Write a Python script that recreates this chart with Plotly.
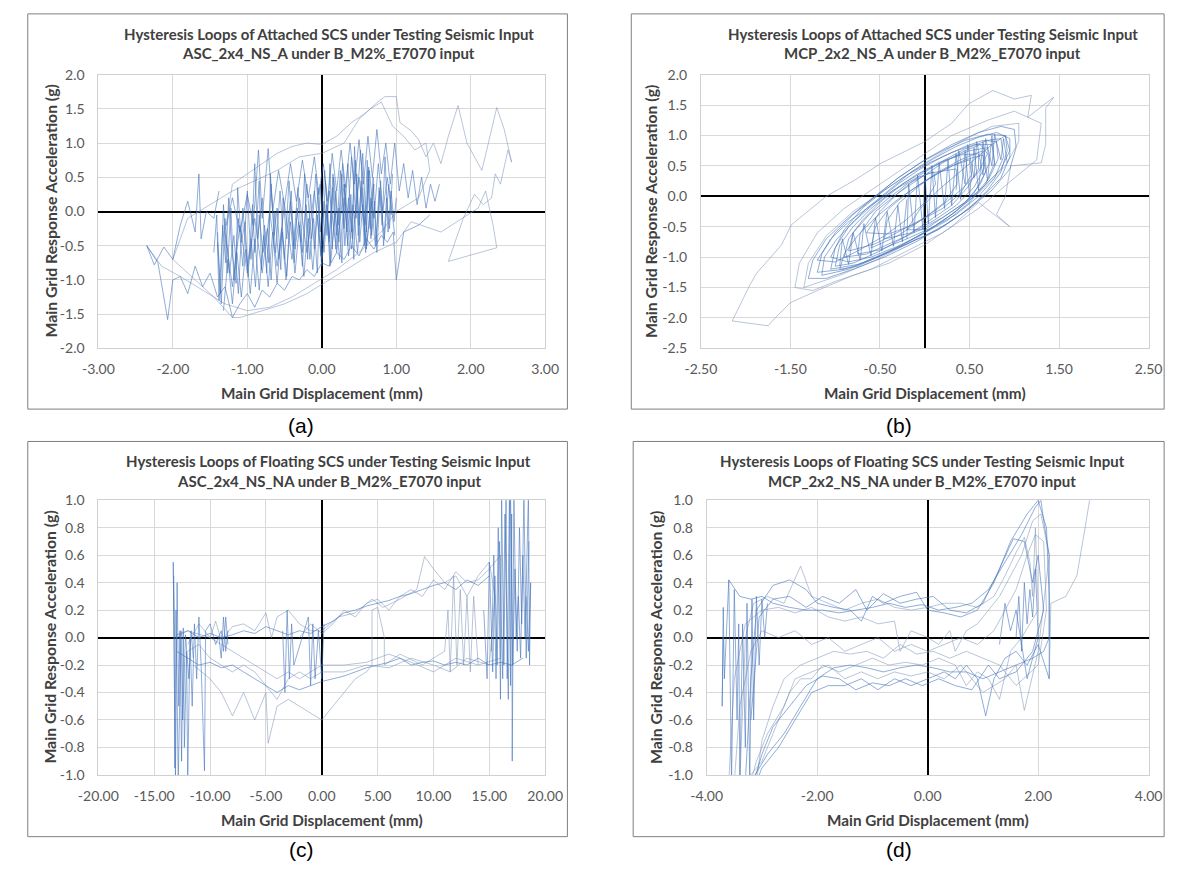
import plotly.graph_objects as go

W, H = 1186, 878

# ---------------- Panel (a) : ASC_2x4_NS_A (attached) ----------------
A_PASS1 = [(-1.40,-0.30),(-1.36,-1.20),(-1.32,0.10),(-1.27,-0.90),(-1.22,0.05),(-1.18,-1.00),(-1.12,-0.10),(-1.06,-0.80),
           (-1.00,0.30),(-0.95,-0.70),(-0.90,0.70),(-0.86,-0.40),(-0.80,0.20),(-0.74,-0.90),(-0.68,0.40),(-0.62,-0.60),
           (-0.56,0.30),(-0.50,-0.70),(-0.44,0.45),(-0.38,-0.50),(-0.32,0.35),(-0.26,-0.60),(-0.20,0.40),(-0.14,-0.40),
           (-0.08,0.55),(-0.02,-0.30),(0.04,0.60),(0.10,-0.40),(0.16,0.50),(0.22,-0.20),(0.28,0.70),(0.34,-0.30),
           (0.40,0.80),(0.46,-0.10),(0.52,0.90),(0.58,-0.20),(0.64,0.60),(0.70,-0.10),(0.76,0.70),(0.82,0.00),
           (0.88,0.50),(0.94,-0.05)]
A_PASS2 = [(0.98,-0.35),(0.90,0.40),(0.84,-0.40),(0.78,0.30),(0.72,-0.50),(0.66,0.20),(0.60,-0.55),(0.54,0.35),
           (0.48,-0.60),(0.42,0.10),(0.36,-0.65),(0.30,0.20),(0.24,-0.70),(0.18,0.00),(0.12,-0.75),(0.06,0.10),
           (0.00,-0.80),(-0.06,-0.05),(-0.12,-0.85),(-0.18,-0.10),(-0.24,-0.95),(-0.30,-0.20),(-0.36,-0.90),
           (-0.42,-0.15),(-0.48,-1.00),(-0.54,-0.25),(-0.60,-1.05),(-0.66,-0.30),(-0.72,-1.10),(-0.78,-0.35),
           (-0.84,-1.15),(-0.90,-0.40),(-0.96,-1.20),(-1.02,-0.55),(-1.08,-1.25),(-1.14,-0.60),(-1.20,-1.35),
           (-1.26,-0.70),(-1.32,-1.45)]
A_PASS3 = [(-1.28,-0.20),(-1.20,0.20),(-1.10,-0.30),(-1.00,0.25),(-0.92,-0.20),(-0.85,0.90),(-0.80,-0.10),(-0.72,0.92),
           (-0.66,0.00),(-0.58,0.60),(-0.50,0.10),(-0.42,0.70),(-0.34,0.15),(-0.26,0.75),(-0.18,0.20),(-0.10,0.80),
           (-0.04,0.25),(0.02,0.70),(0.08,0.15),(0.14,0.85),(0.20,0.30),(0.26,0.90),(0.32,0.35),(0.38,1.00),
           (0.44,0.40),(0.50,1.05),(0.56,0.40),(0.62,1.10),(0.68,0.50),(0.74,1.20),(0.80,0.55),(0.86,1.00),
           (0.92,0.40),(0.98,1.00),(1.04,0.30),(1.10,0.70),(1.16,0.20),(1.22,0.60),(1.28,0.10),(1.34,0.50),
           (1.40,0.05),(1.46,0.40),(1.52,0.15),(1.58,0.40)]
A_PASS4 = [(1.45,-0.05),(1.30,-0.20),(1.10,-0.30),(1.00,-1.00),(0.96,-0.30),(0.88,-0.45),(0.80,-0.35),(0.70,-0.55),
           (0.60,-0.40),(0.50,-0.65),(0.40,-0.50),(0.30,-0.70),(0.20,-0.60),(0.10,-0.80),(0.00,-0.75),(-0.10,-0.95),
           (-0.20,-0.85),(-0.30,-1.00),(-0.40,-0.95),(-0.50,-1.15),(-0.60,-1.05),(-0.70,-1.25),(-0.80,-1.15),
           (-0.90,-1.40),(-1.00,-1.20),(-1.10,-1.35),(-1.20,-1.55),(-1.30,-1.10),(-1.40,-1.25),(-1.50,-0.90),
           (-1.60,-1.10),(-1.70,-0.80),(-1.80,-1.20),(-1.90,-0.95),(-2.00,-1.00),(-2.07,-1.58),(-2.20,-0.75),
           (-2.35,-0.50),(-2.25,-0.78),(-2.12,-0.52),(-2.00,-0.70),(-1.90,-0.20),(-1.80,0.15),(-1.70,-0.30),
           (-1.65,0.55),(-1.62,-0.40),(-1.55,0.00),(-1.45,-0.10),(-1.38,0.30)]
A_PASS5 = [(-1.45,-0.60),(-1.41,-0.05),(-1.38,-1.30),(-1.33,-0.20),(-1.29,-0.75),(-1.25,0.20),(-1.21,-0.55),
           (-1.15,-1.05),(-1.13,0.35),(-1.08,-0.45),(-1.03,-0.15),(-0.99,-0.95),(-0.93,0.10),(-0.90,-0.60),
           (-0.84,0.45),(-0.81,-0.85),(-0.77,-0.20),(-0.71,-0.75),(-0.69,0.55),(-0.64,-0.35),(-0.60,0.05),
           (-0.55,-0.85),(-0.52,0.20),(-0.47,-0.40),(-0.41,0.30),(-0.37,-0.75),(-0.33,0.05),(-0.28,-0.45),
           (-0.23,0.55),(-0.19,-0.70),(-0.15,0.25),(-0.10,-0.55),(-0.05,0.35),(-0.01,-0.65),(0.03,0.15),
           (0.07,-0.35),(0.11,0.70),(0.14,-0.55),(0.19,0.30),(0.23,-0.45),(0.27,0.55),(0.31,-0.50),(0.36,0.20),
           (0.41,-0.40),(0.44,0.95),(0.49,-0.35),(0.53,0.45),(0.57,-0.50),(0.61,0.75),(0.65,-0.25),(0.69,0.50),
           (0.73,-0.45),(0.77,0.35),(0.81,-0.20),(0.85,0.80),(0.89,-0.30),(0.93,0.30),(0.97,-0.15),(1.00,0.20)]
A_PASS6 = [(0.95,0.55),(0.91,-0.25),(0.87,0.20),(0.83,-0.50),(0.79,0.45),(0.74,-0.60),(0.71,0.15),(0.67,-0.35),
           (0.63,0.65),(0.59,-0.60),(0.55,0.10),(0.51,-0.45),(0.47,0.55),(0.43,-0.70),(0.39,0.25),(0.35,-0.50),
           (0.31,0.40),(0.27,-0.75),(0.23,0.05),(0.19,-0.55),(0.15,0.35),(0.11,-0.80),(0.07,0.00),(0.03,-0.60),
           (-0.02,0.40),(-0.06,-0.90),(-0.11,-0.10),(-0.16,-0.70),(-0.21,0.10),(-0.26,-0.80),(-0.31,-0.15),
           (-0.36,-0.55),(-0.42,0.15),(-0.47,-0.95),(-0.53,-0.30),(-0.58,-0.70),(-0.63,0.00),(-0.68,-1.00),
           (-0.73,-0.25),(-0.79,-0.60),(-0.84,-0.05),(-0.89,-1.10),(-0.95,-0.40),(-1.00,-0.80),(-1.06,0.05),
           (-1.12,-1.20),(-1.18,-0.35),(-1.24,-0.90),(-1.30,-0.10),(-1.35,-1.35),(-1.40,-0.45)]
A_DENSE = [(0.00,-0.50),(0.05,0.45),(0.10,-0.45),(0.15,0.55),(0.20,-0.35),(0.25,0.60),(0.30,-0.25),(0.35,0.70),
           (0.40,-0.30),(0.45,0.75),(0.50,-0.20),(0.55,0.85),(0.60,-0.30),(0.62,0.60),(0.66,-0.40),(0.70,0.40),
           (0.60,-0.50),(0.50,0.50),(0.40,-0.55),(0.30,0.40),(0.20,-0.60),(0.10,0.30),(0.00,-0.70),(-0.10,0.30),
           (-0.20,-0.60),(-0.30,0.20),(-0.40,-0.70),(-0.50,0.10),(-0.60,-0.80),(-0.70,0.00),(-0.80,-0.90),
           (-0.90,-0.10),(-1.00,-0.90),(-1.10,-0.20),(-1.20,-1.10),(-1.30,-0.30)]
A_OUTER = [(-1.30,-0.30),(-1.20,0.40),(-1.00,0.55),(-0.80,0.70),(-0.60,0.85),(-0.40,0.95),(-0.20,1.00),(0.00,0.98),
           (0.20,1.10),(0.40,1.30),(0.60,1.45),(0.75,1.60),(0.85,1.68),(1.00,1.68),(1.05,1.30),(1.20,1.18),
           (1.30,1.05),(1.40,0.80),(1.50,1.00),(1.60,0.70),(1.70,1.10),(1.83,1.55),(1.95,1.00),(2.05,0.80),
           (2.15,0.60),(2.35,1.52),(2.45,1.20),(2.55,0.72),(2.50,0.90),(2.40,0.40),(2.33,0.55),(2.28,0.20),
           (2.17,0.10),(2.05,0.25),(1.90,-0.10),(1.70,-0.73),(2.35,-0.53),(2.30,-0.20),(2.20,0.30),(2.10,0.05),
           (1.60,-0.30),(1.20,-0.15),(1.00,-0.45),(0.70,-0.60),(0.40,-0.80),(0.10,-1.00),(-0.20,-1.20),
           (-0.50,-1.35),(-0.80,-1.45),(-1.10,-1.55),(-1.20,-1.55),(-1.45,-1.25),(-1.70,-1.00),(-2.00,-0.70),
           (-1.80,-0.10),(-1.50,0.10),(-1.20,0.30),(-0.90,0.45),(-0.60,0.60),(-0.30,0.80),(0.00,0.85),
           (0.30,1.00),(0.50,1.35),(0.65,1.50),(0.80,1.60),(0.95,1.25),(1.10,1.10),(1.25,0.90),(1.40,1.00),
           (1.45,0.60),(1.30,0.20),(1.00,0.00),(0.80,-0.30),(0.50,-0.60),(0.20,-0.85),(-0.10,-1.05),
           (-0.40,-1.25),(-0.70,-1.40),(-1.00,-1.45),(-1.30,-1.35),(-1.60,-1.15),(-1.90,-0.95),(-2.15,-0.80),
           (-2.35,-0.50)]

# ---------------- Panel (b) : MCP_2x2_NS_A (attached) ----------------
B_LOOP_L = [(-1.20,-1.25),(-1.15,-0.95),(-1.00,-0.60),(-0.80,-0.30),(-0.55,0.00),(-0.30,0.30),(-0.05,0.55),
            (0.20,0.75),(0.45,0.92),(0.70,1.02),(0.90,1.00),(0.92,0.75),(0.85,0.40),(0.70,0.10),(0.50,-0.20),
            (0.25,-0.45),(0.00,-0.65),(-0.30,-0.85),(-0.60,-1.05),(-0.90,-1.20),(-1.20,-1.25)]
B_LOOP_M = [(-0.90,-1.00),(-0.85,-0.70),(-0.70,-0.40),(-0.50,-0.10),(-0.25,0.20),(0.00,0.42),(0.25,0.60),(0.50,0.75),
            (0.70,0.80),(0.72,0.55),(0.62,0.20),(0.45,-0.10),(0.20,-0.35),(-0.05,-0.55),(-0.35,-0.75),(-0.65,-0.95),
            (-0.90,-1.00)]
B_LOOP_S = [(-0.60,-0.85),(-0.55,-0.50),(-0.40,-0.20),(-0.20,0.05),(0.05,0.30),(0.30,0.50),(0.50,0.60),(0.52,0.35),
            (0.40,0.05),(0.20,-0.20),(-0.05,-0.40),(-0.30,-0.65),(-0.60,-0.85)]
B_LOOP_XL = [(-1.30,-1.35),(-1.25,-1.05),(-1.10,-0.70),(-0.85,-0.35),(-0.60,-0.05),(-0.30,0.30),(0.00,0.60),
             (0.30,0.85),(0.60,1.05),(0.85,1.15),(1.00,1.10),(1.02,0.80),(0.95,0.45),(0.75,0.10),(0.50,-0.20),
             (0.20,-0.50),(-0.10,-0.75),(-0.45,-1.00),(-0.80,-1.20),(-1.10,-1.35),(-1.30,-1.35)]
B_LOOP_L2 = [(-1.05,-1.20),(-1.00,-0.85),(-0.85,-0.50),(-0.65,-0.20),(-0.40,0.10),(-0.15,0.40),(0.10,0.62),
             (0.35,0.82),(0.60,0.97),(0.80,1.05),(0.95,0.95),(0.95,0.65),(0.85,0.30),(0.65,0.00),(0.40,-0.30),
             (0.15,-0.55),(-0.15,-0.75),(-0.45,-0.95),(-0.75,-1.12),(-1.05,-1.20)]
B_LOOP_L3 = [(-1.15,-1.30),(-1.12,-1.00),(-0.98,-0.70),(-0.78,-0.40),(-0.55,-0.10),(-0.30,0.20),(-0.05,0.45),
             (0.20,0.65),(0.45,0.82),(0.65,0.92),(0.80,0.90),(0.82,0.62),(0.72,0.30),(0.55,0.00),(0.30,-0.30),
             (0.05,-0.55),(-0.25,-0.80),(-0.55,-1.00),(-0.85,-1.20),(-1.15,-1.30)]
B_LOOP_M2 = [(-0.75,-0.95),(-0.72,-0.60),(-0.55,-0.25),(-0.30,0.05),(-0.05,0.35),(0.20,0.58),(0.45,0.78),(0.70,0.92),
             (0.85,0.95),(0.88,0.65),(0.78,0.30),(0.60,0.00),(0.35,-0.30),(0.10,-0.50),(-0.20,-0.70),(-0.50,-0.88),
             (-0.75,-0.95)]
B_LOOP_M3 = [(-1.00,-1.15),(-0.95,-0.80),(-0.80,-0.50),(-0.60,-0.20),(-0.35,0.10),(-0.10,0.35),(0.15,0.55),(0.40,0.68),
             (0.60,0.70),(0.60,0.45),(0.48,0.15),(0.30,-0.15),(0.05,-0.40),(-0.20,-0.65),(-0.50,-0.90),(-0.80,-1.10),
             (-1.00,-1.15)]
B_LOOP_S2 = [(-0.45,-0.70),(-0.42,-0.40),(-0.28,-0.10),(-0.08,0.15),(0.15,0.40),(0.40,0.60),(0.65,0.75),(0.66,0.45),
             (0.55,0.15),(0.35,-0.15),(0.10,-0.40),(-0.15,-0.60),(-0.45,-0.70)]
B_LOOP_S3 = [(-0.85,-0.90),(-0.80,-0.60),(-0.62,-0.30),(-0.42,-0.05),(-0.20,0.20),(0.05,0.38),(0.35,0.45),(0.36,0.20),
             (0.22,-0.10),(0.00,-0.35),(-0.25,-0.55),(-0.55,-0.78),(-0.85,-0.90)]
B_LOOP_A = [(-1.05,-1.00),(-0.90,-0.55),(-0.70,-0.20),(-0.45,0.10),(-0.20,0.35),(0.05,0.55),(0.30,0.72),(0.55,0.85),
            (0.75,0.85),(0.78,0.55),(0.68,0.20),(0.50,-0.10),(0.25,-0.40),(0.00,-0.60),(-0.30,-0.82),(-0.60,-1.00),
            (-0.85,-1.08),(-1.05,-1.00)]
B_LOOP_B = [(-0.95,-1.20),(-0.90,-0.95),(-0.75,-0.65),(-0.55,-0.35),(-0.30,-0.05),(-0.05,0.20),(0.20,0.42),(0.45,0.60),
            (0.65,0.68),(0.68,0.40),(0.55,0.05),(0.35,-0.25),(0.10,-0.50),(-0.15,-0.72),(-0.45,-0.95),(-0.75,-1.15),
            (-0.95,-1.20)]
B_LOOP_C = [(-0.65,-0.60),(-0.50,-0.25),(-0.30,0.05),(-0.05,0.30),(0.20,0.55),(0.45,0.75),(0.62,0.85),(0.70,0.70),
            (0.60,0.40),(0.40,0.10),(0.15,-0.20),(-0.10,-0.45),(-0.40,-0.62),(-0.65,-0.60)]
B_LOOP_D = [(-1.20,-1.05),(-1.05,-0.70),(-0.85,-0.42),(-0.60,-0.15),(-0.35,0.10),(-0.10,0.30),(0.10,0.40),(0.12,0.20),
            (0.00,-0.10),(-0.20,-0.38),(-0.45,-0.65),(-0.75,-0.90),(-1.00,-1.08),(-1.20,-1.05)]
B_LOOP_E = [(-0.20,-0.55),(-0.05,-0.20),(0.15,0.10),(0.35,0.35),(0.55,0.60),(0.75,0.85),(0.90,1.00),(0.95,0.75),
            (0.85,0.45),(0.65,0.15),(0.45,-0.10),(0.20,-0.35),(0.00,-0.55),(-0.20,-0.55)]
B_CENTER = [(-0.20,-0.70),(-0.18,0.20),(-0.12,-0.60),(-0.08,0.35),(-0.02,-0.55),(0.00,0.40),(0.04,-0.45),(0.08,0.50),
            (0.12,-0.35),(0.16,0.55),(0.22,-0.20),(0.26,0.60),(0.30,-0.15),(0.35,0.70),(0.40,-0.05),(0.45,0.75),
            (0.50,0.00),(0.55,0.80),(0.60,0.10),(0.65,0.90),(0.70,0.25),(0.75,1.00),(0.78,0.50)]
B_RIGHT_HATCH = [(0.35,0.10),(0.38,0.75),(0.45,0.20),(0.48,0.85),(0.55,0.30),(0.58,0.90),(0.65,0.35),(0.68,0.95),
                 (0.75,0.50),(0.78,1.02),(0.85,0.60),(0.88,0.95),(0.92,0.55)]
B_LEFT_HATCH = [(-0.95,-1.15),(-0.92,-0.70),(-0.85,-1.12),(-0.80,-0.60),(-0.72,-1.05),(-0.68,-0.45),(-0.60,-0.98),
                (-0.55,-0.35),(-0.48,-0.90),(-0.42,-0.25),(-0.35,-0.82),(-0.30,-0.15),(-0.25,-0.75),(-0.20,-0.05)]
B_LOOP_XL2 = [(-1.35,-1.50),(-1.30,-1.10),(-1.10,-0.65),(-0.80,-0.25),(-0.40,0.15),(0.00,0.55),(0.40,0.90),
              (0.75,1.15),(1.05,1.20),(1.05,0.90),(0.90,0.50),(0.60,0.05),(0.25,-0.35),(-0.15,-0.75),(-0.55,-1.05),
              (-0.95,-1.30),(-1.35,-1.50)]
B_OUTER1 = [(-2.15,-2.05),(-1.95,-1.45),(-1.88,-1.27),(-1.60,-0.80),(-1.49,-0.47),(-1.10,0.00),(-0.80,0.25),
            (-0.48,0.55),(0.00,0.90),(0.30,1.20),(0.49,1.52),(0.76,1.74),(1.00,1.60),(1.19,1.66),(1.15,1.30),
            (1.44,1.63),(1.35,1.45),(1.35,0.85),(1.30,0.55),(0.96,0.50),(0.90,0.00),(0.80,-0.30),(0.95,-0.50),
            (0.60,-0.10),(0.30,-0.50),(0.00,-0.80),(-0.40,-1.10),(-0.80,-1.30),(-1.20,-1.55),(-1.50,-1.75),
            (-1.67,-2.00),(-1.75,-2.13),(-2.15,-2.05)]
B_OUTER2 = [(-1.45,-1.50),(-1.40,-1.10),(-1.20,-0.60),(-0.90,-0.20),(-0.50,0.20),(-0.10,0.60),(0.30,1.00),(0.70,1.25),
            (1.00,1.40),(1.30,1.20),(1.25,0.60),(1.00,0.30),(0.60,-0.20),(0.20,-0.60),(-0.20,-0.90),(-0.60,-1.20),
            (-1.00,-1.40),(-1.25,-1.55),(-1.45,-1.50)]

# ---------------- Panel (c) : ASC_2x4_NS_NA (floating) ----------------
C_LEFT_SPIKES = [(-13.2,0.00),(-13.3,0.55),(-13.1,-1.05),(-12.95,0.40),(-12.8,-0.50),(-12.7,0.05),(-12.55,-0.90),
                 (-12.4,0.07),(-12.3,-0.80),(-12.1,-0.10),(-12.0,-1.05),(-11.8,0.00),(-11.6,-0.50),(-11.4,0.10),
                 (-11.2,-0.30),(-11.0,0.15),(-10.8,-0.20),(-10.5,-0.97),(-10.4,0.05),(-10.0,0.10),(-9.5,-0.05),
                 (-9.0,0.05),(-8.8,-0.10),(-8.6,0.15),(-8.4,-0.05)]
C_LEFT_SPIKES2 = [(-13.25,0.45),(-13.15,-0.95),(-13.05,0.20),(-12.85,-1.05),(-12.60,0.05),(-12.45,-0.60),
                  (-12.20,0.02),(-11.90,-0.30),(-11.70,0.05),(-11.50,-0.15)]
C_CYCLE1_UP = [(-13.0,0.02),(-12.0,0.05),(-11.0,0.00),(-10.0,0.03),(-9.0,0.00),(-8.0,0.02),(-7.0,0.05),(-6.0,0.03),
               (-5.0,0.08),(-4.0,0.05),(-3.0,0.02),(-2.0,0.05),(-1.0,0.03),(0.0,0.08),(1.0,0.12),(2.0,0.18),
               (3.0,0.20),(4.0,0.23),(5.0,0.25),(6.0,0.27),(7.0,0.30),(8.0,0.32),(9.0,0.35),(10.0,0.38),
               (11.0,0.40),(12.0,0.35),(13.0,0.42),(14.0,0.38),(15.0,0.45)]
C_RIGHT_SPIKES = [(15.2,-0.10),(15.4,0.60),(15.6,-0.30),(15.8,0.80),(16.0,-0.45),(16.1,1.05),(16.3,-0.20),(16.5,1.05),
                  (16.6,-0.30),(16.8,1.05),(16.9,-0.35),(17.0,0.90),(17.05,-0.90),(17.2,1.05),(17.4,0.00),(17.6,0.30),
                  (17.8,-0.15),(18.0,0.60),(18.2,0.00),(18.5,1.05),(18.6,-0.20),(18.7,0.40),(18.5,-0.10),(18.3,0.30)]
C_RIGHT_SPIKES2 = [(14.5,0.20),(14.8,-0.30),(15.0,0.55),(15.3,-0.25),(15.5,0.45),(15.7,-0.20),(15.9,0.70),
                   (16.2,-0.30),(16.4,0.90),(16.7,-0.45),(16.9,1.05),(17.1,-0.20),(17.3,0.50),(17.5,-0.10),
                   (17.7,0.80),(17.9,0.10),(18.1,1.05),(18.3,-0.15),(18.55,0.70)]
C_CYCLE1_DN = [(18.0,-0.15),(17.0,-0.20),(16.0,-0.18),(15.0,-0.20),(14.0,-0.15),(13.0,-0.20),(12.0,-0.18),
               (11.0,-0.20),(10.0,-0.17),(9.0,-0.18),(8.0,-0.20),(7.0,-0.15),(6.0,-0.18),(5.0,-0.20),(4.0,-0.22),
               (3.0,-0.25),(2.0,-0.28),(1.0,-0.30),(0.0,-0.32),(-1.0,-0.35),(-2.0,-0.38),(-3.0,-0.35),(-4.0,-0.40),
               (-5.0,-0.35),(-6.0,-0.30),(-7.0,-0.25),(-8.0,-0.20),(-9.0,-0.22),(-10.0,-0.18),(-11.0,-0.20),
               (-12.0,-0.15),(-13.0,-0.10)]
C_CYCLE2 = [(-12.0,-0.05),(-11.0,0.10),(-10.0,0.00),(-9.5,0.12),(-9.0,-0.02),(-8.0,0.08),(-7.0,0.10),(-6.0,0.05),
            (-5.0,0.18),(-4.5,0.00),(-4.0,0.15),(-3.0,0.20),(-2.0,0.10),(-1.0,0.05),(0.0,0.05),(1.5,0.15),
            (3.0,0.18),(4.5,0.28),(5.5,0.22),(7.0,0.28),(8.5,0.35),(9.2,0.59),(10.0,0.50),(11.0,0.40),(12.0,0.45),
            (13.0,0.30),(14.0,0.45),(15.0,0.55),(15.5,0.30),(15.0,-0.20),(13.0,-0.15),(11.5,-0.25),(10.0,-0.20),
            (8.0,-0.15),(6.0,-0.22),(4.0,-0.20),(2.0,-0.25),(0.0,-0.25),(-1.0,-0.30),(-2.0,-0.25),(-3.0,-0.30),
            (-4.0,-0.45),(-5.0,-0.35),(-6.0,-0.25),(-7.0,-0.20),(-8.0,-0.25),(-9.0,-0.20),(-10.0,-0.15),
            (-11.0,-0.05),(-12.0,-0.10)]
C_CYCLE3 = [(-11.5,-0.20),(-10.0,-0.30),(-9.0,-0.40),(-8.0,-0.57),(-7.0,-0.40),(-6.0,-0.60),(-5.0,-0.40),
            (-4.8,-0.77),(-4.0,-0.50),(-3.0,-0.45),(-2.0,-0.50),(-1.0,-0.55),(0.0,-0.60),(1.0,-0.50),(2.0,-0.40),
            (3.0,-0.30),(4.0,-0.25),(4.5,-0.20),(4.5,0.20),(5.0,0.22),(5.6,0.00),(5.6,-0.20),(7.0,-0.12),
            (9.0,-0.20),(11.0,-0.10),(11.3,0.20),(11.5,-0.25),(11.8,0.45),(12.1,-0.20),(12.4,0.35),(12.7,-0.20),
            (13.0,0.30),(13.3,-0.25),(13.6,0.30),(14.0,-0.20)]
C_CYCLE4 = [(-2.0,0.00),(-1.0,0.10),(0.0,0.03),(1.0,0.10),(2.0,0.20),(3.0,0.15),(4.0,0.25),(5.0,0.28),(6.0,0.20),
            (7.0,0.30),(8.0,0.35),(9.0,0.30),(10.0,0.42),(11.0,0.35),(12.0,0.48),(13.0,0.40),(14.0,0.42),
            (15.0,0.50),(16.0,0.60),(16.0,-0.15),(14.0,-0.20),(12.0,-0.15),(10.0,-0.25),(8.0,-0.18),(6.0,-0.12),
            (4.0,-0.18),(2.0,-0.20),(0.0,-0.20),(-1.0,-0.25),(-2.0,-0.30),(-3.0,-0.25),(-4.0,-0.30),(-6.0,-0.20),
            (-8.0,-0.10),(-10.0,0.00),(-12.0,0.05),(-13.0,0.00)]
C_MID_SPIKES = [(-3.5,0.05),(-3.3,-0.40),(-3.1,0.20),(-2.9,-0.30),(-2.7,0.10),(-2.5,-0.20),(-1.2,0.15),(-1.0,-0.35),
                (-0.8,0.10),(-0.6,-0.30),(-0.3,0.05),(0.0,-0.30),(0.2,0.10)]
C_MID_SPIKES2 = [(-9.2,0.00),(-9.0,-0.15),(-8.8,0.15),(-8.6,-0.10),(-8.4,0.05)]

# ---------------- Panel (d) : MCP_2x2_NS_NA (floating) ----------------
D_LEFT_SPIKES = [(-3.70,0.00),(-3.72,-0.50),(-3.70,0.22),(-3.68,-0.30),(-3.60,0.42),(-3.55,-1.05),(-3.50,0.35),
                 (-3.45,-0.60),(-3.42,0.10),(-3.40,-1.05),(-3.35,0.10),(-3.30,-0.80),(-3.27,0.25),(-3.22,-1.05),
                 (-3.18,0.28),(-3.15,-0.60),(-3.10,0.30),(-3.05,-0.20),(-3.00,0.28),(-2.95,0.00),(-2.90,0.25)]
D_CYCLE1 = [(-3.6,0.42),(-3.4,0.30),(-3.2,0.28),(-3.0,0.30),(-2.8,0.25),(-2.5,0.22),(-2.2,0.20),(-1.9,0.20),
            (-1.6,0.18),(-1.3,0.20),(-1.0,0.22),(-0.7,0.25),(-0.4,0.22),(-0.1,0.24),(0.2,0.20),(0.5,0.22),
            (0.8,0.25),(1.1,0.35),(1.4,0.55),(1.7,0.75),(1.95,0.95),(2.05,1.00),(2.1,0.85),(2.2,0.60),(2.2,0.00),
            (2.1,-0.10),(1.9,-0.15),(1.6,-0.20),(1.3,-0.25),(1.0,-0.30),(0.7,-0.25),(0.4,-0.25),(0.1,-0.22),
            (-0.2,-0.20),(-0.5,-0.22),(-0.8,-0.25),(-1.1,-0.22),(-1.4,-0.20),(-1.7,-0.22),(-2.0,-0.30),
            (-2.3,-0.50),(-2.6,-0.70),(-2.9,-0.85),(-3.2,-1.05)]
D_CYCLE2 = [(-3.3,-1.05),(-3.2,-0.30),(-3.1,0.20),(-2.8,0.38),(-2.5,0.42),(-2.2,0.35),(-2.0,0.25),(-1.7,0.22),
            (-1.4,0.20),(-1.2,0.12),(-1.0,0.30),(-0.8,0.25),(-0.5,0.30),(-0.2,0.33),(0.0,0.20),(0.3,0.18),
            (0.6,0.15),(0.9,0.20),(1.2,0.40),(1.5,0.70),(1.8,0.90),(2.0,1.00),(2.15,0.80),(2.2,0.30),(2.2,-0.30),
            (2.0,-0.05),(1.8,-0.20),(1.6,-0.10),(1.4,-0.15),(1.2,-0.30),(1.05,-0.57),(0.9,-0.30),(0.7,-0.20),
            (0.5,-0.30),(0.3,-0.25),(0.0,-0.30),(-0.3,-0.35),(-0.6,-0.30),(-0.9,-0.38),(-1.2,-0.30),(-1.5,-0.35),
            (-1.8,-0.35),(-2.1,-0.40),(-2.4,-0.60),(-2.7,-0.80),(-3.0,-0.95),(-3.1,-1.05)]
D_CYCLE3 = [(-3.4,-1.05),(-3.3,0.00),(-3.15,0.25),(-2.9,0.30),(-2.6,0.25),(-2.3,0.52),(-2.1,0.30),(-1.8,0.25),
            (-1.5,0.20),(-1.2,0.25),(-0.9,0.28),(-0.6,0.22),(-0.3,0.20),(0.0,0.22),(0.3,0.25),(0.6,0.25),
            (0.9,0.22),(1.2,0.30),(1.4,0.45),(1.6,0.62),(1.75,0.73),(1.85,0.55),(1.9,0.30),(1.95,0.80),(2.0,0.20),
            (1.7,0.00),(1.5,-0.10),(1.3,-0.45),(1.1,-0.30),(0.9,-0.25),(0.7,-0.35),(0.5,-0.20),(0.2,-0.15),
            (-0.1,-0.20),(-0.4,-0.18),(-0.7,-0.20),(-1.0,-0.15),(-1.3,-0.20),(-1.6,-0.25),(-1.9,-0.20),
            (-2.1,-0.30),(-2.3,-0.30),(-2.5,-0.40),(-2.8,-0.70),(-3.0,-0.90),(-3.3,-1.05)]
D_CYCLE4 = [(-3.6,-1.05),(-3.5,-0.30),(-3.3,0.10),(-3.0,0.20),(-2.7,0.22),(-2.4,0.18),(-2.1,0.22),(-1.8,0.15),
            (-1.5,0.12),(-1.2,0.15),(-0.9,0.10),(-0.6,0.12),(-0.5,-0.10),(-0.3,0.05),(0.0,0.00),(0.2,-0.05),
            (0.4,0.05),(0.5,-0.10),(0.7,0.05),(0.9,0.10),(1.1,0.20),(1.3,0.30),(1.5,0.45),(1.7,0.60),(1.9,0.85),
            (2.05,0.90),(2.2,0.60),(2.0,-0.10),(1.75,-0.53),(1.6,-0.20),(1.4,-0.30),(1.2,-0.35),(1.0,-0.40),
            (0.8,-0.30),(0.6,-0.20),(0.3,-0.30),(0.0,-0.25),(-0.3,-0.28),(-0.6,-0.25),(-0.9,-0.30),(-1.2,-0.25),
            (-1.5,-0.30),(-1.8,-0.20),(-2.1,-0.25),(-2.4,-0.30),(-2.6,-0.50),(-2.9,-0.70),(-3.1,-0.90),(-3.2,-1.05)]
D_CYCLE5 = [(-3.5,-1.05),(-3.4,-0.50),(-3.2,-0.10),(-3.0,0.05),(-2.7,0.00),(-2.4,0.05),(-2.1,-0.05),(-1.8,0.00),
            (-1.5,-0.10),(-1.2,-0.05),(-0.9,0.00),(-0.6,-0.10),(-0.3,-0.05),(0.0,-0.10),(0.3,-0.05),(0.6,0.00),
            (0.9,-0.05),(1.2,0.05),(1.4,0.20),(1.6,0.35),(1.8,0.60),(1.95,0.75),(2.1,0.70),(2.15,0.20),(2.0,-0.20),
            (1.6,-0.35),(1.3,-0.20),(1.0,-0.15),(0.7,-0.10),(0.4,-0.15),(0.1,-0.10),(-0.2,-0.12),(-0.5,-0.05),
            (-0.8,-0.15),(-1.1,-0.10),(-1.4,-0.12),(-1.7,-0.10),(-2.0,-0.15),(-2.3,-0.20),(-2.6,-0.30),(-2.8,-0.50),
            (-3.0,-0.75),(-3.1,-1.05)]
D_CYCLE6 = [(-3.2,-0.60),(-3.05,0.15),(-2.8,0.28),(-2.5,0.30),(-2.2,0.22),(-1.9,0.30),(-1.6,0.25),(-1.3,0.35),
            (-1.1,0.20),(-0.8,0.32),(-0.5,0.25),(-0.2,0.28),(0.1,0.30),(0.4,0.20),(0.7,0.18),(1.0,0.25),(1.3,0.50),
            (1.55,0.72),(1.75,0.70),(1.9,0.40),(2.0,0.60),(2.1,0.20),(1.9,-0.10),(1.6,-0.25),(1.3,-0.30),
            (1.1,-0.20),(0.8,-0.38),(0.5,-0.35),(0.2,-0.30),(-0.1,-0.35),(-0.4,-0.30),(-0.7,-0.35),(-1.0,-0.33),
            (-1.3,-0.38),(-1.6,-0.30),(-1.9,-0.28),(-2.2,-0.35),(-2.5,-0.50),(-2.8,-0.65),(-3.0,-0.85),(-3.15,-1.05)]
D_RIGHT_SPIKES = [(1.60,0.00),(1.65,0.30),(1.70,-0.10),(1.75,0.40),(1.80,0.10),(1.85,0.35),(1.90,0.15),(1.95,0.50),
                  (2.00,0.00),(1.80,-0.30),(1.60,0.20),(1.50,0.05),(1.40,0.25),(1.30,-0.05)]
D_OUTER = [(2.20,-0.30),(2.23,0.25),(2.50,0.30),(2.70,0.45),(2.85,0.80),(2.95,1.05)]

# ---------------- axis ticks / labels ----------------
A_XTICKS = [-3, -2, -1, 0, 1, 2, 3]
A_YTICKS = [-2.0, -1.5, -1.0, -0.5, 0.0, 0.5, 1.0, 1.5, 2.0]
B_XTICKS = [-2.5, -1.5, -0.5, 0.5, 1.5, 2.5]
B_YTICKS = [-2.5, -2.0, -1.5, -1.0, -0.5, 0.0, 0.5, 1.0, 1.5, 2.0]
C_XTICKS = [-20, -15, -10, -5, 0, 5, 10, 15, 20]
CD_YTICKS = [-1.0, -0.8, -0.6, -0.4, -0.2, 0.0, 0.2, 0.4, 0.6, 0.8, 1.0]
D_XTICKS = [-4, -2, 0, 2, 4]

TITLE_ATT = "Hysteresis Loops of Attached SCS under Testing Seismic Input"
TITLE_FLT = "Hysteresis Loops of Floating SCS under Testing Seismic Input"
SUBTITLES = ["ASC_2x4_NS_A under B_M2%_E7070 input", "MCP_2x2_NS_A under B_M2%_E7070 input",
             "ASC_2x4_NS_NA under B_M2%_E7070 input", "MCP_2x2_NS_NA under B_M2%_E7070 input"]
XTITLE = "Main Grid Displacement (mm)"
YTITLE = "Main Grid Response Acceleration (g)"
PANEL_LABELS = ["(a)", "(b)", "(c)", "(d)"]


def join(*segs):
    """Concatenate separately digitised strokes, breaking the line between them."""
    xs, ys = [], []
    for seg in segs:
        for x, y in seg:
            xs.append(x)
            ys.append(y)
        xs.append(None)
        ys.append(None)
    return xs, ys


def fmt(v, nd):
    return ("{:." + str(nd) + "f}").format(v)


CORE = "rgba(66,113,186,0.58)"
PALE = "rgba(125,150,185,0.55)"
FONT = "Lato, 'Open Sans', sans-serif"

panels = [
    dict(core=[A_PASS1, A_PASS2, A_PASS3, A_PASS4, A_PASS5, A_PASS6, A_DENSE], pale=[A_OUTER],
         px=(80, 542), py=(67, 346), xr=(-3, 3), yr=(-2, 2), xt=A_XTICKS, yt=A_YTICKS,
         title=TITLE_ATT, box=(7, 5, 565, 408), tcx=318, ty=5, ytx=30, lab=(290, 425)),
    dict(core=[B_LOOP_L, B_LOOP_M, B_LOOP_S, B_LOOP_XL, B_LOOP_L2, B_LOOP_L3, B_LOOP_M2, B_LOOP_M3, B_LOOP_S2,
               B_LOOP_S3, B_LOOP_A, B_LOOP_B, B_LOOP_C, B_LOOP_D, B_LOOP_E, B_CENTER, B_RIGHT_HATCH, B_LEFT_HATCH],
         pale=[B_OUTER1, B_OUTER2, B_LOOP_XL2],
         px=(703, 1166), py=(67, 346), xr=(-2.5, 2.5), yr=(-2.5, 2), xt=B_XTICKS, yt=B_YTICKS,
         title=TITLE_ATT, box=(631, 5, 1182, 408), tcx=943, ty=5, ytx=651, lab=(908, 425)),
    dict(core=[C_LEFT_SPIKES, C_LEFT_SPIKES2, C_CYCLE1_UP, C_RIGHT_SPIKES, C_RIGHT_SPIKES2, C_CYCLE1_DN,
               C_MID_SPIKES, C_MID_SPIKES2], pale=[C_CYCLE2, C_CYCLE3, C_CYCLE4],
         px=(80, 542), py=(501, 781), xr=(-20, 20), yr=(-1, 1), xt=C_XTICKS, yt=CD_YTICKS,
         title=TITLE_FLT, box=(7, 441, 565, 844), tcx=318, ty=441, ytx=30, lab=(290, 857)),
    dict(core=[D_LEFT_SPIKES, D_CYCLE1, D_RIGHT_SPIKES, D_CYCLE2, D_CYCLE6],
         pale=[D_CYCLE3, D_CYCLE4, D_CYCLE5, D_OUTER],
         px=(709, 1166), py=(501, 781), xr=(-4, 4), yr=(-1, 1), xt=D_XTICKS, yt=CD_YTICKS,
         title=TITLE_FLT, box=(633, 441, 1182, 844), tcx=932, ty=441, ytx=656, lab=(908, 857)),
]

fig = go.Figure()
layout = dict(width=W, height=H, margin=dict(l=0, r=0, t=0, b=0), paper_bgcolor="white",
              plot_bgcolor="white", showlegend=False, shapes=[], annotations=[])

for i, p in enumerate(panels):
    n = "" if i == 0 else str(i + 1)
    xa, ya = "x" + n, "y" + n
    xs, ys = join(*p["pale"])
    fig.add_trace(go.Scatter(x=xs, y=ys, mode="lines", xaxis=xa, yaxis=ya, connectgaps=False,
                             line=dict(color=PALE, width=1), hoverinfo="skip"))
    xs, ys = join(*p["core"])
    fig.add_trace(go.Scatter(x=xs, y=ys, mode="lines", xaxis=xa, yaxis=ya, connectgaps=False,
                             line=dict(color=CORE, width=1), hoverinfo="skip"))
    layout["xaxis" + n] = dict(
        domain=[p["px"][0] / W, p["px"][1] / W], range=list(p["xr"]), anchor=ya,
        tickvals=p["xt"], ticktext=[fmt(v, 2) for v in p["xt"]],
        showgrid=True, gridcolor="#d9d9d9", gridwidth=1,
        zeroline=True, zerolinecolor="black", zerolinewidth=2,
        showline=True, linecolor="#d0d0d0", linewidth=1, mirror=True,
        ticks="", ticklabelstandoff=8,
        tickfont=dict(family=FONT, size=14, color="#595959"), fixedrange=True)
    layout["yaxis" + n] = dict(
        domain=[1 - p["py"][1] / H, 1 - p["py"][0] / H], range=list(p["yr"]), anchor=xa,
        tickvals=p["yt"], ticktext=[fmt(v, 1) for v in p["yt"]],
        showgrid=True, gridcolor="#d9d9d9", gridwidth=1,
        zeroline=True, zerolinecolor="black", zerolinewidth=2,
        showline=True, linecolor="#d0d0d0", linewidth=1, mirror=True,
        ticks="", ticklabelstandoff=10,
        tickfont=dict(family=FONT, size=14, color="#595959"), fixedrange=True)
    x0, y0, x1, y1 = p["box"]
    layout["shapes"].append(dict(type="rect", xref="paper", yref="paper",
                                 x0=x0 / W, x1=x1 / W, y0=1 - y1 / H, y1=1 - y0 / H,
                                 line=dict(color="#7f7f7f", width=1), fillcolor="rgba(0,0,0,0)", layer="below"))
    for k, txt in enumerate([p["title"], SUBTITLES[i]]):
        layout["annotations"].append(dict(text="<b>" + txt + "</b>", x=p["tcx"] / W, y=1 - (p["ty"] + 20 + 20 * k) / H,
                                          xref="paper", yref="paper", showarrow=False, xanchor="center",
                                          yanchor="middle", font=dict(family=FONT, size=15, color="#404040")))
    xc = (p["px"][0] + p["px"][1]) / 2
    layout["annotations"].append(dict(text="<b>" + XTITLE + "</b>", x=xc / W, y=1 - (p["py"][1] + 46) / H,
                                      xref="paper", yref="paper", showarrow=False, xanchor="center", yanchor="middle",
                                      font=dict(family=FONT, size=15.3, color="#404040")))
    yc = (p["py"][0] + p["py"][1]) / 2
    layout["annotations"].append(dict(text="<b>" + YTITLE + "</b>", x=p["ytx"] / W, y=1 - yc / H, textangle=-90,
                                      xref="paper", yref="paper", showarrow=False, xanchor="center", yanchor="middle",
                                      font=dict(family=FONT, size=15.8, color="#404040")))
    layout["annotations"].append(dict(text=PANEL_LABELS[i], x=p["lab"][0] / W, y=1 - p["lab"][1] / H,
                                      xref="paper", yref="paper", showarrow=False, xanchor="center", yanchor="middle",
                                      font=dict(family="Liberation Sans, Arial, sans-serif", size=21, color="black")))

fig.update_layout(**layout)
fig.write_html("out.html", config={"displayModeBar": False},
               post_script="document.body.style.margin='0px';document.body.style.overflow='hidden';")
